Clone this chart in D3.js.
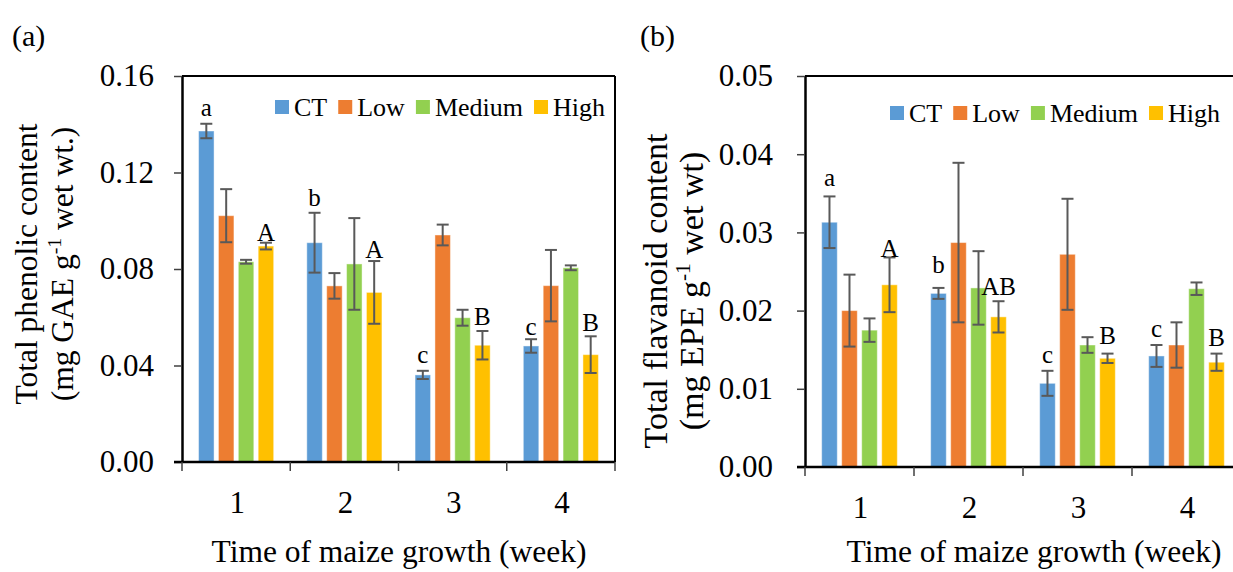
<!DOCTYPE html>
<html>
<head>
<meta charset="utf-8">
<script src="https://cdn.jsdelivr.net/npm/d3@7"></script>
<style>
  html, body { margin: 0; padding: 0; background: #fff; }
  svg { display: block; }
  svg text { font-family: "Liberation Serif", "Times New Roman", serif !important; fill: #000; }
</style>
</head>
<body>
<svg id="chart" width="1233" height="572"></svg>
<script>
// ---------------- data ----------------
const weeks = ["1", "2", "3", "4"];
const treatments = ["CT", "Low", "Medium", "High"];
const colors = ["#5B9BD5", "#ED7D31", "#92D050", "#FFC000"];

// (a) Total phenolic content, rows = treatment, cols = week
const phenolicCT     = [0.1372, 0.0909, 0.0361, 0.0481];
const phenolicLow    = [0.1021, 0.0730, 0.0941, 0.0731];
const phenolicMedium = [0.0830, 0.0821, 0.0598, 0.0805];
const phenolicHigh   = [0.0895, 0.0703, 0.0484, 0.0445];
const phenolicErrCT     = [0.0030, 0.0124, 0.0017, 0.0028];
const phenolicErrLow    = [0.0110, 0.0053, 0.0043, 0.0148];
const phenolicErrMedium = [0.0008, 0.0190, 0.0033, 0.0010];
const phenolicErrHigh   = [0.0014, 0.0130, 0.0059, 0.0076];
const phenolicTicks = [0.00, 0.04, 0.08, 0.12, 0.16];
const phenolicLetters = [
  {t: "CT",   w: "1", s: "a", at: 0.1434},
  {t: "High", w: "1", s: "A", at: 0.0917},
  {t: "CT",   w: "2", s: "b", at: 0.1062},
  {t: "High", w: "2", s: "A", at: 0.0846},
  {t: "CT",   w: "3", s: "c", at: 0.0409},
  {t: "High", w: "3", s: "B", at: 0.0568},
  {t: "CT",   w: "4", s: "c", at: 0.0526},
  {t: "High", w: "4", s: "B", at: 0.0544}
];

// (b) Total flavanoid content
const flavCT     = [0.0313, 0.0222, 0.0107, 0.0142];
const flavLow    = [0.0200, 0.0287, 0.0272, 0.0156];
const flavMedium = [0.0175, 0.0229, 0.0156, 0.0228];
const flavHigh   = [0.0233, 0.0192, 0.0139, 0.0134];
const flavErrCT     = [0.0033, 0.0007, 0.0016, 0.0014];
const flavErrLow    = [0.0046, 0.0102, 0.0071, 0.0029];
const flavErrMedium = [0.0015, 0.0047, 0.0010, 0.0008];
const flavErrHigh   = [0.0035, 0.0020, 0.0006, 0.0011];
const flavTicks = [0.00, 0.01, 0.02, 0.03, 0.04, 0.05];
const flavLetters = [
  {t: "CT",   w: "1", s: "a",  at: 0.0359},
  {t: "High", w: "1", s: "A",  at: 0.0268},
  {t: "CT",   w: "2", s: "b",  at: 0.0248},
  {t: "High", w: "2", s: "AB", at: 0.0220},
  {t: "CT",   w: "3", s: "c",  at: 0.0133},
  {t: "High", w: "3", s: "B",  at: 0.0157},
  {t: "CT",   w: "4", s: "c",  at: 0.0166},
  {t: "High", w: "4", s: "B",  at: 0.0155}
];

const xTitle = "Time of maize growth (week)";

// ---------------- drawing ----------------
const svg = d3.select("#chart");

function panel(cfg) {
  const g = svg.append("g");
  const x0 = d3.scaleBand().domain(weeks).range([cfg.left, cfg.right]).padding(0);
  const bw = x0.bandwidth();
  const x1 = d3.scaleBand().domain(treatments).range([bw * 0.153, bw * 0.847]).paddingInner(0.22);
  const y = d3.scaleLinear().domain([cfg.ticks[0], cfg.ticks[cfg.ticks.length - 1]]).range([cfg.bottom, cfg.top]);

  const rows = [];
  treatments.forEach((t, i) => {
    weeks.forEach((w, j) => {
      rows.push({t, w, v: cfg.values[i][j], e: cfg.errs[i][j], c: colors[i]});
    });
  });

  // frame (top / right)
  g.append("line").attr("x1", cfg.left).attr("x2", cfg.right).attr("y1", cfg.top).attr("y2", cfg.top)
    .attr("stroke", "#000").attr("stroke-width", 2);
  g.append("line").attr("x1", cfg.right).attr("x2", cfg.right).attr("y1", cfg.top).attr("y2", cfg.bottom)
    .attr("stroke", "#000").attr("stroke-width", 2);

  // bars
  g.selectAll("rect.bar").data(rows).enter().append("rect")
    .attr("class", "bar")
    .attr("x", d => x0(d.w) + x1(d.t))
    .attr("width", x1.bandwidth())
    .attr("y", d => y(d.v))
    .attr("height", d => y(0) - y(d.v))
    .attr("fill", d => d.c)
    .attr("stroke", "#ffffff").attr("stroke-opacity", 0.45).attr("stroke-width", 1);

  // error bars
  const eb = g.selectAll("g.err").data(rows).enter().append("g").attr("class", "err")
    .attr("stroke", "#595959").attr("stroke-width", 2);
  const cx = d => x0(d.w) + x1(d.t) + x1.bandwidth() / 2;
  eb.append("line").attr("x1", cx).attr("x2", cx).attr("y1", d => y(d.v + d.e)).attr("y2", d => y(d.v - d.e));
  eb.append("line").attr("x1", d => cx(d) - 6).attr("x2", d => cx(d) + 6).attr("y1", d => y(d.v + d.e)).attr("y2", d => y(d.v + d.e));
  eb.append("line").attr("x1", d => cx(d) - 6).attr("x2", d => cx(d) + 6).attr("y1", d => y(d.v - d.e)).attr("y2", d => y(d.v - d.e));

  // significance letters
  g.selectAll("text.sig").data(cfg.letters).enter().append("text")
    .attr("class", "sig")
    .attr("x", d => x0(d.w) + x1(d.t) + x1.bandwidth() / 2)
    .attr("y", d => y(d.at))
    .attr("text-anchor", "middle")
    .attr("font-size", 25)
    .text(d => d.s);

  // y axis
  const yAxis = d3.axisLeft(y).tickValues(cfg.ticks).tickFormat(d3.format(".2f")).tickSize(8).tickSizeOuter(0).tickPadding(cfg.tickPad);
  const ya = g.append("g").attr("transform", `translate(${cfg.left},0)`).call(yAxis);
  ya.attr("font-family", null);
  ya.select(".domain").attr("stroke", "#000").attr("stroke-width", 2.5);
  ya.selectAll(".tick line").attr("stroke", "#404040").attr("stroke-width", 1.5);
  ya.selectAll(".tick text").attr("font-size", 31);

  // x axis: baseline, boundary ticks, labels
  g.append("line").attr("x1", cfg.left - 8).attr("x2", cfg.right).attr("y1", cfg.bottom).attr("y2", cfg.bottom)
    .attr("stroke", "#000").attr("stroke-width", 2.5);
  const bounds = weeks.map(w => x0(w)).concat([cfg.right]);
  g.selectAll("line.xt").data(bounds).enter().append("line").attr("class", "xt")
    .attr("x1", d => d).attr("x2", d => d).attr("y1", cfg.bottom).attr("y2", cfg.bottom + 9)
    .attr("stroke", "#404040").attr("stroke-width", 1.5);
  g.selectAll("text.xl").data(weeks).enter().append("text").attr("class", "xl")
    .attr("x", d => x0(d) + bw / 2 + 1)
    .attr("y", cfg.bottom + 51)
    .attr("text-anchor", "middle").attr("font-size", 31).text(d => d);

  // x title
  g.append("text").attr("x", cfg.xTitleX).attr("y", cfg.xTitleY).attr("text-anchor", "middle")
    .attr("font-size", 31.5).text(xTitle);

  // y title (two lines, rotated)
  g.append("text").attr("transform", `translate(${cfg.yTitleX1},${cfg.yTitleY}) rotate(-90)`)
    .attr("text-anchor", "middle").attr("font-size", cfg.yTitleSize).text(cfg.yTitle1);
  const yt2 = g.append("text").attr("transform", `translate(${cfg.yTitleX2},${cfg.yTitleY}) rotate(-90)`)
    .attr("text-anchor", "middle").attr("font-size", cfg.yTitleSize);
  yt2.append("tspan").text(cfg.yTitle2a);
  yt2.append("tspan").attr("font-size", cfg.yTitleSize * 0.63).attr("dy", -cfg.yTitleSize * 0.38).text("-1");
  yt2.append("tspan").attr("dy", cfg.yTitleSize * 0.38).text(cfg.yTitle2b);

  // panel tag
  g.append("text").attr("x", cfg.tagX).attr("y", 46).attr("font-size", 30).text(cfg.tag);

  // legend
  const lg = g.append("g").attr("transform", `translate(${cfg.legX},${cfg.legY})`);
  let cursor = 0;
  treatments.forEach((t, i) => {
    lg.append("rect").attr("x", cursor).attr("y", -7).attr("width", 14).attr("height", 14).attr("fill", colors[i]);
    const tx = lg.append("text").attr("x", cursor + 19).attr("y", 9).attr("font-size", 26).text(t);
    cursor += 19 + tx.node().getComputedTextLength() + 11;
  });
}

panel({
  left: 182, right: 615, top: 76, bottom: 462,
  ticks: phenolicTicks,
  values: [phenolicCT, phenolicLow, phenolicMedium, phenolicHigh],
  errs: [phenolicErrCT, phenolicErrLow, phenolicErrMedium, phenolicErrHigh],
  letters: phenolicLetters,
  tickPad: 20,
  xTitleX: 399, xTitleY: 562,
  yTitleX1: 37, yTitleX2: 73, yTitleY: 264, yTitleSize: 31.5,
  yTitle1: "Total phenolic content",
  yTitle2a: "(mg GAE g", yTitle2b: " wet wt.)",
  tag: "(a)", tagX: 12,
  legX: 275, legY: 107
});

panel({
  left: 805, right: 1241, top: 76, bottom: 467,
  ticks: flavTicks,
  values: [flavCT, flavLow, flavMedium, flavHigh],
  errs: [flavErrCT, flavErrLow, flavErrMedium, flavErrHigh],
  letters: flavLetters,
  tickPad: 24,
  xTitleX: 1034, xTitleY: 562,
  yTitleX1: 667, yTitleX2: 703, yTitleY: 291, yTitleSize: 34,
  yTitle1: "Total flavanoid content",
  yTitle2a: "(mg EPE g", yTitle2b: " wet wt)",
  tag: "(b)", tagX: 640,
  legX: 890, legY: 113
});
</script>
</body>
</html>
